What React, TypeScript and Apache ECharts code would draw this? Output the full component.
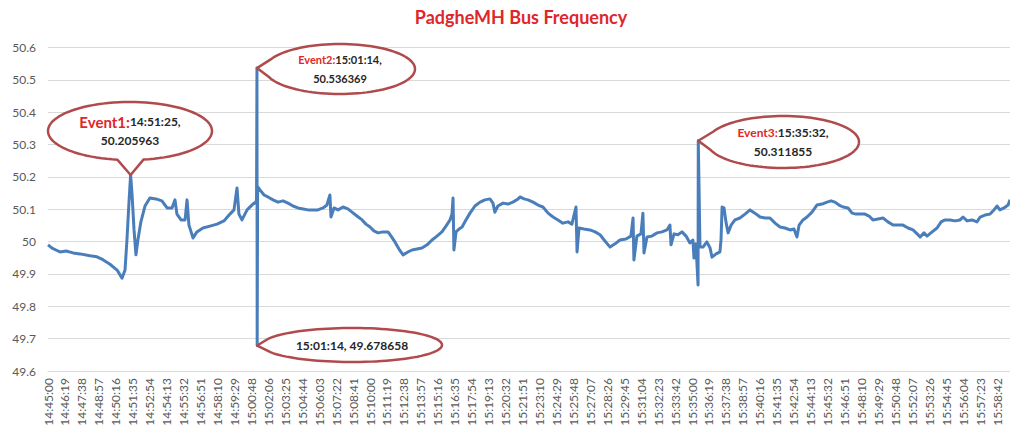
import React, { useEffect, useRef } from "react";
import * as echarts from "echarts";

const tickLabels = [
  "14:45:00", "14:46:19", "14:47:38", "14:48:57", "14:50:16", "14:51:35", "14:52:54", "14:54:13",
  "14:55:32", "14:56:51", "14:58:10", "14:59:29", "15:00:48", "15:02:06", "15:03:25", "15:04:44",
  "15:06:03", "15:07:22", "15:08:41", "15:10:00", "15:11:19", "15:12:38", "15:13:57", "15:15:16",
  "15:16:35", "15:17:54", "15:19:13", "15:20:32", "15:21:51", "15:23:10", "15:24:29", "15:25:48",
  "15:27:07", "15:28:26", "15:29:45", "15:31:04", "15:32:23", "15:33:42", "15:35:00", "15:36:19",
  "15:37:38", "15:38:57", "15:40:16", "15:41:35", "15:42:54", "15:44:13", "15:45:32", "15:46:51",
  "15:48:10", "15:49:29", "15:50:48", "15:52:07", "15:53:26", "15:54:45", "15:56:04", "15:57:23",
  "15:58:42",
];
const samplesPerTick = 79;
const lastSample = 4484;

// sample index (seconds since 14:45:00) and bus frequency (Hz)
const seconds = [
  0, 19, 37, 56, 84, 117, 149, 196, 228, 256, 289, 322, 345, 359, 368, 378, 385, 392, 401, 410,
  419, 433, 452, 475, 503, 531, 555, 578, 592, 601, 620, 639, 648, 657, 676, 694, 722, 755, 788, 820,
  848, 867, 881, 890, 904, 928, 955, 969, 972, 974, 975, 977, 988, 1007, 1025, 1049, 1072, 1095, 1119, 1142,
  1165, 1189, 1212, 1235, 1258, 1282, 1300, 1314, 1319, 1333, 1352, 1375, 1398, 1417, 1440, 1464, 1482, 1501, 1519, 1538,
  1561, 1585, 1599, 1617, 1636, 1655, 1678, 1697, 1720, 1743, 1767, 1790, 1813, 1836, 1855, 1874, 1883, 1888, 1892, 1902,
  1916, 1930, 1948, 1967, 1990, 2014, 2037, 2060, 2074, 2083, 2097, 2121, 2144, 2167, 2191, 2200, 2219, 2237, 2261, 2284,
  2307, 2331, 2354, 2377, 2400, 2424, 2442, 2461, 2466, 2475, 2498, 2526, 2550, 2573, 2596, 2620, 2643, 2666, 2694, 2717,
  2727, 2731, 2745, 2764, 2773, 2778, 2792, 2815, 2839, 2862, 2885, 2899, 2904, 2918, 2936, 2955, 2974, 2992, 3006, 3011,
  3020, 3030, 3031, 3039, 3053, 3071, 3086, 3095, 3114, 3132, 3137, 3142, 3151, 3160, 3170, 3184, 3202, 3225, 3249, 3272,
  3295, 3319, 3342, 3365, 3389, 3412, 3435, 3459, 3477, 3491, 3501, 3519, 3538, 3561, 3584, 3608, 3631, 3650, 3668, 3687,
  3706, 3729, 3748, 3766, 3785, 3808, 3827, 3845, 3869, 3892, 3915, 3939, 3962, 3985, 4009, 4032, 4051, 4065, 4083, 4097,
  4121, 4144, 4163, 4181, 4204, 4228, 4251, 4265, 4284, 4307, 4330, 4345, 4367, 4391, 4409, 4424, 4437, 4456, 4475, 4484,
];
const frequency = [
  49.99, 49.98, 49.974, 49.968, 49.971, 49.965, 49.962, 49.956, 49.953, 49.944, 49.93, 49.912, 49.887, 49.912, 50.005, 50.128, 50.205963, 50.144, 50.036, 49.959,
  50.005, 50.061, 50.11, 50.135, 50.132, 50.126, 50.104, 50.104, 50.129, 50.085, 50.067, 50.067, 50.129, 50.051, 50.011, 50.03, 50.042, 50.048, 50.054, 50.064,
  50.085, 50.098, 50.166, 50.085, 50.067, 50.098, 50.116, 50.122, 50.13, 50.536369, 49.678658, 50.17, 50.16, 50.144, 50.138, 50.129, 50.122, 50.126, 50.119, 50.11,
  50.104, 50.101, 50.098, 50.098, 50.098, 50.104, 50.113, 50.144, 50.076, 50.104, 50.098, 50.107, 50.101, 50.091, 50.079, 50.067, 50.054, 50.045, 50.033, 50.027,
  50.03, 50.03, 50.017, 49.999, 49.977, 49.959, 49.968, 49.974, 49.977, 49.98, 49.99, 50.005, 50.017, 50.03, 50.048, 50.067, 50.085, 50.135, 49.974, 50.03,
  50.039, 50.045, 50.067, 50.088, 50.11, 50.122, 50.129, 50.132, 50.119, 50.091, 50.11, 50.119, 50.116, 50.122, 50.132, 50.138, 50.132, 50.129, 50.122, 50.113,
  50.107, 50.088, 50.076, 50.067, 50.057, 50.061, 50.054, 50.107, 49.968, 50.042, 50.039, 50.036, 50.03, 50.021, 50.002, 49.983, 49.993, 50.005, 50.008, 50.017,
  50.073, 49.943, 50.017, 50.024, 50.088, 49.965, 50.014, 50.017, 50.027, 50.03, 50.036, 50.051, 49.99, 50.024, 50.021, 50.03, 50.017, 49.996, 50.005, 49.949,
  49.993, 49.866, 50.311855, 49.983, 49.983, 49.999, 49.98, 49.952, 49.962, 49.968, 50.005, 50.107, 50.104, 50.061, 50.027, 50.051, 50.067, 50.073, 50.085, 50.098,
  50.088, 50.076, 50.073, 50.073, 50.057, 50.045, 50.042, 50.036, 50.039, 50.014, 50.051, 50.067, 50.076, 50.091, 50.113, 50.116, 50.122, 50.126, 50.122, 50.113,
  50.107, 50.104, 50.088, 50.085, 50.085, 50.085, 50.079, 50.067, 50.07, 50.073, 50.061, 50.051, 50.051, 50.051, 50.042, 50.036, 50.024, 50.014, 50.027, 50.017,
  50.03, 50.042, 50.061, 50.067, 50.067, 50.064, 50.067, 50.076, 50.064, 50.067, 50.061, 50.076, 50.082, 50.085, 50.098, 50.11, 50.098, 50.104, 50.113, 50.129,
];

const eventNames = ["Event1:", "Event2:", "Event3:"];
const eventTimes = ["14:51:25,", "15:01:14,", "15:35:32,"];
const eventSeconds = [385, 974, 3031];
const eventValues = [50.205963, 50.536369, 50.311855];
const lowTime = "15:01:14,";
const lowSecond = 975;
const lowValue = 49.678658;

const FONT = "Lato, 'Open Sans', sans-serif";
const RED = "#E0262A";
const CALLOUT = "#B04A4C";

function calloutPoints(cx: number, cy: number, rx: number, ry: number, tip: number[], halfGap: number) {
  const phi = Math.atan2((tip[1] - cy) / ry, (tip[0] - cx) / rx);
  const pts: number[][] = [[tip[0], tip[1]]];
  const n = 90;
  for (let i = 0; i <= n; i++) {
    const th = phi + halfGap + ((2 * Math.PI - 2 * halfGap) * i) / n;
    pts.push([cx + rx * Math.cos(th), cy + ry * Math.sin(th)]);
  }
  return pts;
}

export default function App() {
  const ref = useRef<HTMLDivElement>(null);
  useEffect(() => {
    if (!ref.current) return;
    const chart = echarts.init(ref.current, undefined, { renderer: "svg" });
    const data = seconds.map((s, i) => [s, frequency[i]]);
    chart.setOption({
      animation: false,
      backgroundColor: "#ffffff",
      title: {
        text: "PadgheMH Bus Frequency",
        left: 516,
        textAlign: "center",
        top: 3,
        textStyle: { color: RED, fontSize: 18, fontWeight: "bold", fontFamily: FONT },
      },
      grid: { left: 48, right: 0, top: 47.5, bottom: 61, containLabel: false, outerBoundsMode: "none" },
      xAxis: {
        type: "value",
        min: 0,
        max: lastSample,
        axisLine: { show: true, lineStyle: { color: "#D9D9D9", width: 1 } },
        axisTick: { show: false },
        splitLine: { show: false },
        axisLabel: {
          customValues: tickLabels.map((_, i) => i * samplesPerTick),
          formatter: (v: number) => tickLabels[Math.round(v / samplesPerTick)] ?? "",
          rotate: 90,
          margin: 7,
          color: "#595959",
          fontSize: 12,
          fontFamily: FONT,
        },
      },
      yAxis: {
        type: "value",
        min: 49.6,
        max: 50.6,
        interval: 0.1,
        axisLine: { show: false },
        axisTick: { show: false },
        splitLine: { show: true, lineStyle: { color: "#D9D9D9", width: 1 } },
        axisLabel: {
          formatter: (v: number) => String(Math.round(v * 10) / 10),
          color: "#595959",
          fontSize: 12,
          fontFamily: FONT,
          margin: 12,
        },
      },
      series: [
        {
          type: "line",
          data,
          showSymbol: false,
          symbol: "none",
          sampling: undefined,
          lineStyle: { color: "#4A7EBB", width: 3, join: "round" },
          z: 2,
        },
      ],
    });

    const px = (t: number, v: number) => chart.convertToPixel({ gridIndex: 0 }, [t, v]) as number[];
    const shapes = [
      { cx: 130, cy: 131, rx: 82, ry: 29, tip: px(eventSeconds[0], eventValues[0]), gap: 0.16 },
      { cx: 340, cy: 69, rx: 75, ry: 25, tip: px(eventSeconds[1], eventValues[1]), gap: 0.36 },
      { cx: 783, cy: 142, rx: 76, ry: 26, tip: px(eventSeconds[2], eventValues[2]), gap: 0.36 },
      { cx: 352, cy: 345, rx: 90, ry: 17, tip: px(lowSecond, lowValue), gap: 0.42 },
    ];
    const sizes = [
      { ev: 15, tx: 12 },
      { ev: 11, tx: 11 },
      { ev: 12, tx: 12 },
    ];
    const graphics: any[] = [];
    shapes.forEach((s, i) => {
      graphics.push({
        type: "polygon",
        z: 10,
        shape: { points: calloutPoints(s.cx, s.cy, s.rx, s.ry, s.tip, s.gap) },
        style: { fill: "#ffffff", stroke: CALLOUT, lineWidth: 2.5, lineJoin: "round" },
      });
      if (i < 3) {
        graphics.push({
          type: "text",
          z: 11,
          x: s.cx,
          y: s.cy,
          style: {
            text: `{e|${eventNames[i]}}{t|${eventTimes[i]}}\n{t|${eventValues[i]}}`,
            align: "center",
            verticalAlign: "middle",
            rich: {
              e: { fill: RED, fontSize: sizes[i].ev, fontWeight: "bold", fontFamily: FONT, lineHeight: 19 },
              t: { fill: "#262626", fontSize: sizes[i].tx, fontWeight: "bold", fontFamily: FONT, lineHeight: 19 },
            },
          },
        });
      } else {
        graphics.push({
          type: "text",
          z: 11,
          x: s.cx,
          y: s.cy,
          style: {
            text: `${lowTime} ${lowValue}`,
            align: "center",
            verticalAlign: "middle",
            fill: "#262626",
            fontSize: 12,
            fontWeight: "bold",
            fontFamily: FONT,
          },
        });
      }
    });
    chart.setOption({ graphic: graphics });
    return () => chart.dispose();
  }, []);
  return (
    <div
      ref={ref}
      style={{ position: "absolute", left: 0, top: 0, width: 1010, height: 432, background: "#fff" }}
    />
  );
}
